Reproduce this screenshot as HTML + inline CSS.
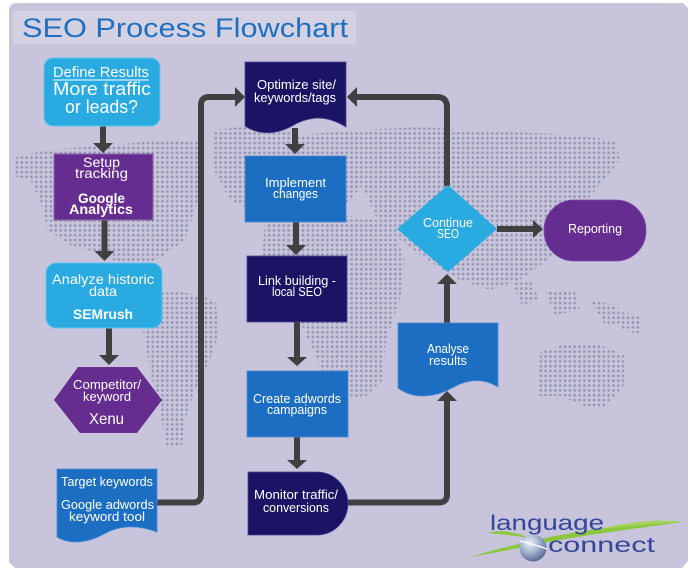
<!DOCTYPE html>
<html><head><meta charset="utf-8"><style>
html,body{margin:0;padding:0;background:#fff;}
svg{display:block;}
text{font-family:"Liberation Sans",sans-serif;fill:#fff;}
</style></head><body>
<svg width="694" height="577" viewBox="0 0 694 577" xmlns="http://www.w3.org/2000/svg">
<defs>
<pattern id="dots" x="0" y="0" width="4.85" height="4.85" patternUnits="userSpaceOnUse">
<circle cx="2.4" cy="2.4" r="1.3" fill="#9094ae"/>
</pattern>
<clipPath id="world">
<polygon points="14,158 45,150 100,146 165,140 198,142 198,200 185,240 160,258 135,268 118,262 95,252 70,245 48,230 40,200 30,180 14,176"/>
<polygon points="118,262 135,268 152,292 140,294 122,276"/>
<polygon points="143,295 175,290 215,300 220,330 210,360 195,390 185,420 182,446 166,446 160,410 150,370 143,330"/>
<polygon points="214,130 260,125 300,135 360,130 372,175 345,205 300,215 260,215 230,200 214,170"/>
<polygon points="265,225 330,213 390,222 405,260 400,300 386,340 383,380 365,397 330,397 318,360 300,322 272,292 262,255"/>
<polygon points="360,130 420,127 480,131 560,134 615,140 620,160 600,185 582,205 570,240 545,262 520,280 490,290 460,280 430,262 400,240 375,215 360,180"/>
<polygon points="512,282 530,280 540,300 522,305"/>
<polygon points="545,290 575,292 580,310 555,315"/>
<polygon points="590,300 615,305 630,322 605,325"/>
<polygon points="620,312 642,316 640,334 622,330"/>
<polygon points="540,352 570,343 600,345 624,355 624,385 606,406 585,406 560,396 538,396"/>
</clipPath>
<radialGradient id="sph" cx="0.38" cy="0.32" r="0.75">
<stop offset="0" stop-color="#eef2f8"/>
<stop offset="0.5" stop-color="#9fb0cc"/>
<stop offset="1" stop-color="#4d5f8c"/>
</radialGradient>
</defs>

<!-- panel -->
<path d="M17,3 H683 L688,8 V561 L682,568 H15 L9,562 V11 Q9,3 17,3 Z" fill="#c8c4dc"/>
<!-- world map dots -->
<rect x="0" y="100" width="694" height="360" fill="url(#dots)" clip-path="url(#world)"/>

<!-- title -->
<rect x="13" y="11" width="343" height="33" fill="#d4d2e2"/>
<text x="22" y="37" font-size="27" textLength="326" lengthAdjust="spacingAndGlyphs" style="fill:#1f6fc1">SEO Process Flowchart</text>

<!-- connectors -->
<g stroke="#404040" stroke-width="6" fill="none">
<path d="M103,126 V144"/>
<path d="M104.5,220 V252"/>
<path d="M109,328 V356"/>
<path d="M295,128 V145"/>
<path d="M296,222 V246"/>
<path d="M297,322 V358"/>
<path d="M297,437 V461"/>
<path d="M157,502.5 H193 Q201,502.5 201,494.5 V105 Q201,97 209,97 H236"/>
<path d="M447,186 V107 Q447,97 437,97 H356"/>
<path d="M447,323 V283"/>
<path d="M348,502.5 H439 Q447,502.5 447,494.5 V400"/>
<path d="M497,229 H534"/>
</g>
<g fill="#404040">
<polygon points="93,143 113,143 103,153"/>
<polygon points="94.5,251 114.5,251 104.5,261"/>
<polygon points="99,355 119,355 109,365"/>
<polygon points="285,144 305,144 295,154"/>
<polygon points="286,245 306,245 296,255"/>
<polygon points="287,357 307,357 297,366"/>
<polygon points="287,460 307,460 297,469"/>
<polygon points="235,87 235,107 245,97"/>
<polygon points="357,87 357,107 347,97"/>
<polygon points="437,284 457,284 447,274"/>
<polygon points="437,401 457,401 447,391"/>
<polygon points="533,220 533,238 543,229"/>
</g>

<!-- left column -->
<rect x="44" y="58" width="116" height="68" rx="9" fill="#29abe2" stroke="#63c6ee" stroke-width="1"/>
<text x="53" y="77" font-size="14.5" textLength="96" lengthAdjust="spacingAndGlyphs">Define Results</text>
<line x1="53" y1="80" x2="149" y2="80" stroke="#fff" stroke-width="1"/>
<text x="53" y="95" font-size="18" textLength="98" lengthAdjust="spacingAndGlyphs">More traffic</text>
<text x="65" y="113" font-size="18" textLength="73" lengthAdjust="spacingAndGlyphs">or leads?</text>

<rect x="54" y="154" width="99" height="66" fill="#662d91" stroke="#8a63ad" stroke-width="1"/>
<text x="83" y="167" font-size="14" textLength="37" lengthAdjust="spacingAndGlyphs">Setup</text>
<text x="75" y="178" font-size="14" textLength="53" lengthAdjust="spacingAndGlyphs">tracking</text>
<text x="78" y="203" font-size="14" font-weight="bold" textLength="47" lengthAdjust="spacingAndGlyphs">Google</text>
<text x="69" y="214" font-size="14" font-weight="bold" textLength="64" lengthAdjust="spacingAndGlyphs">Analytics</text>

<rect x="46" y="263" width="116" height="65" rx="10" fill="#29abe2" stroke="#63c6ee" stroke-width="1"/>
<text x="52" y="284" font-size="14" textLength="102" lengthAdjust="spacingAndGlyphs">Analyze historic</text>
<text x="89" y="296" font-size="14" textLength="28" lengthAdjust="spacingAndGlyphs">data</text>
<text x="73" y="319" font-size="14" font-weight="bold" textLength="60" lengthAdjust="spacingAndGlyphs">SEMrush</text>

<polygon points="54,400 78,367 137,367 162,400 137,433 80,433" fill="#662d91"/>
<text x="73" y="389" font-size="12.5" textLength="68" lengthAdjust="spacingAndGlyphs">Competitor/</text>
<text x="83" y="401" font-size="12.5" textLength="48" lengthAdjust="spacingAndGlyphs">keyword</text>
<text x="89" y="424" font-size="16" textLength="35" lengthAdjust="spacingAndGlyphs">Xenu</text>

<path d="M57,469 H157 V532 C136,524 118,526 104,534 C88,543 70,545 57,537 Z" fill="#1b6ec2" stroke="#4a8ad2" stroke-width="0.8"/>
<text x="61" y="486" font-size="12.5" textLength="92" lengthAdjust="spacingAndGlyphs">Target keywords</text>
<text x="61" y="509" font-size="12.5" textLength="93" lengthAdjust="spacingAndGlyphs">Google adwords</text>
<text x="69" y="521" font-size="12.5" textLength="76" lengthAdjust="spacingAndGlyphs">keyword tool</text>

<!-- middle column -->
<path d="M245,62 H346 V127 C322,112 304,119 292,126 C276,135 258,135 245,126 Z" fill="#1b1464" stroke="#4a4690" stroke-width="0.8"/>
<text x="257" y="89" font-size="12.5" textLength="79" lengthAdjust="spacingAndGlyphs">Optimize site/</text>
<text x="254" y="102" font-size="12.5" textLength="82" lengthAdjust="spacingAndGlyphs">keywords/tags</text>

<rect x="245" y="156" width="101" height="66" fill="#1b6ec2" stroke="#4a8ad2" stroke-width="0.8"/>
<text x="265" y="187" font-size="12.5" textLength="61" lengthAdjust="spacingAndGlyphs">Implement</text>
<text x="273" y="198" font-size="12.5" textLength="45" lengthAdjust="spacingAndGlyphs">changes</text>

<rect x="247" y="256" width="100" height="66" fill="#1b1464" stroke="#4a4690" stroke-width="0.8"/>
<text x="258" y="285" font-size="12.5" textLength="78" lengthAdjust="spacingAndGlyphs">Link building -</text>
<text x="272" y="296" font-size="12.5" textLength="50" lengthAdjust="spacingAndGlyphs">local SEO</text>

<rect x="247" y="371" width="101" height="66" fill="#1b6ec2" stroke="#4a8ad2" stroke-width="0.8"/>
<text x="253" y="403" font-size="12.5" textLength="88" lengthAdjust="spacingAndGlyphs">Create adwords</text>
<text x="267" y="414" font-size="12.5" textLength="60" lengthAdjust="spacingAndGlyphs">campaigns</text>

<path d="M248,472 H317 A31,31.5 0 0 1 317,535 H248 Z" fill="#1b1464" stroke="#4a4690" stroke-width="0.8"/>
<text x="254" y="499" font-size="12.5" textLength="84" lengthAdjust="spacingAndGlyphs">Monitor traffic/</text>
<text x="263" y="512" font-size="12.5" textLength="66" lengthAdjust="spacingAndGlyphs">conversions</text>

<!-- right column -->
<path d="M398,323 H498 V387 C482,377 466,380 452,388 C436,397 414,400 398,388 Z" fill="#1b6ec2" stroke="#4a8ad2" stroke-width="0.8"/>
<text x="427" y="353" font-size="12.5" textLength="42" lengthAdjust="spacingAndGlyphs">Analyse</text>
<text x="429" y="365" font-size="12.5" textLength="38" lengthAdjust="spacingAndGlyphs">results</text>

<polygon points="397,229 448,185 497,229 448,272" fill="#29abe2"/>
<text x="423" y="227" font-size="12.5" textLength="50" lengthAdjust="spacingAndGlyphs">Continue</text>
<text x="437" y="238" font-size="12.5" textLength="22" lengthAdjust="spacingAndGlyphs">SEO</text>

<rect x="544" y="200" width="102" height="61" rx="30" ry="30" fill="#662d91" stroke="#7d4ca6" stroke-width="0.8"/>
<text x="568" y="233" font-size="13" textLength="54" lengthAdjust="spacingAndGlyphs">Reporting</text>

<!-- logo -->
<path d="M470,557 C540,536 610,524 682,522 C640,528 600,533 560,540 C530,546 500,552 470,557 Z" fill="#8dc63f"/>
<path d="M488,533 C500,529 515,532 530,538 C515,536 500,534 488,533 Z" fill="#8dc63f"/>
<path d="M600,529 C630,521 665,519 682,522 C660,523 630,526 600,529 Z" fill="#a6d45a"/>
<text x="490" y="530" font-size="21" textLength="114" lengthAdjust="spacingAndGlyphs" style="fill:#34469a">language</text>
<circle cx="533" cy="548" r="13.5" fill="url(#sph)"/>
<path d="M520,541 Q533,544 547,549" stroke="#fff" stroke-width="1.2" fill="none"/>
<text x="548" y="552" font-size="21" textLength="107" lengthAdjust="spacingAndGlyphs" style="fill:#34469a">connect</text>
</svg>
</body></html>
